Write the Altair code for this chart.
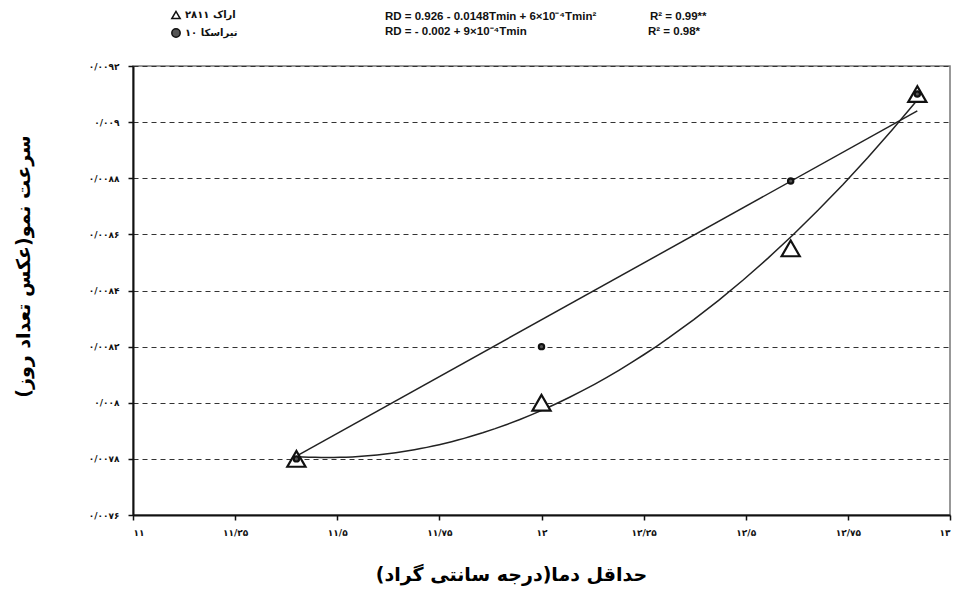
import altair as alt
import pandas as pd

# ---- data ----
series_names = ["اراک ۲۸۱۱", "تیراسکا ۱۰"]
tmin = [11.40, 12.00, 12.61, 12.92]
rd_arak = [0.00780, 0.00800, 0.00855, 0.00910]
rd_tiraska = [0.00780, 0.00820, 0.00879, 0.00910]

# straight trend line of the second series, end points
trend_tmin = [11.40, 12.92]
trend_rd = [0.00781, 0.00904]

x_ticks = [11, 11.25, 11.5, 11.75, 12, 12.25, 12.5, 12.75, 13]
x_labels = ["۱۱", "۱۱/۲۵", "۱۱/۵", "۱۱/۷۵", "۱۲", "۱۲/۲۵", "۱۲/۵", "۱۲/۷۵", "۱۳"]
y_ticks = [0.0076, 0.0078, 0.0080, 0.0082, 0.0084, 0.0086, 0.0088, 0.0090, 0.0092]
y_labels = ["۰/۰۰۷۶", "۰/۰۰۷۸", "۰/۰۰۸", "۰/۰۰۸۲", "۰/۰۰۸۴", "۰/۰۰۸۶", "۰/۰۰۸۸", "۰/۰۰۹", "۰/۰۰۹۲"]

eq_texts = ["RD = 0.926 - 0.0148Tmin + 6×10⁻⁴Tmin²", "RD = - 0.002 + 9×10⁻⁴Tmin"]
r2_texts = ["R² = 0.99**", "R² = 0.98*"]

x_title = "حداقل دما(درجه سانتی گراد)"
y_title = "سرعت نمو(عکس تعداد روز)"

df = pd.DataFrame(
    {
        "tmin": tmin + tmin,
        "rd": rd_arak + rd_tiraska,
        "series": [series_names[0]] * len(tmin) + [series_names[1]] * len(tmin),
    }
)
trend_df = pd.DataFrame({"tmin": trend_tmin, "rd": trend_rd})

x_label_expr = "[" + ",".join("'%s'" % s for s in x_labels) + "][round((datum.value-11)/0.25)]"
y_label_expr = "[" + ",".join("'%s'" % s for s in y_labels) + "][round((datum.value-0.0076)/0.0002)]"

FA = "DejaVu Sans"

x_enc = alt.X(
    "tmin:Q",
    scale=alt.Scale(domain=[11, 13], nice=False, zero=False),
    axis=alt.Axis(
        values=x_ticks,
        labelExpr=x_label_expr,
        title=x_title,
        grid=False,
        tickSize=5,
        labelPadding=8,
        titlePadding=28,
        titleX=378,
        labelFontSize=9,
        labelFont=FA,
        labelFontWeight="bold",
        titleFont=FA,
        titleFontSize=19,
        titleFontWeight="bold",
        domainColor="#111",
        domainWidth=2,
        tickColor="#111",
        tickWidth=1.5,
        labelColor="#111",
        titleColor="#000",
    ),
)
y_enc = alt.Y(
    "rd:Q",
    scale=alt.Scale(domain=[0.0076, 0.0092], nice=False, zero=False),
    axis=alt.Axis(
        values=y_ticks,
        labelExpr=y_label_expr,
        title=y_title,
        grid=True,
        gridDash=[5, 4],
        gridColor="#333",
        gridWidth=1.2,
        tickSize=5,
        labelPadding=9,
        titlePadding=55,
        titleY=200,
        labelFontSize=9,
        labelFont=FA,
        labelFontWeight="bold",
        titleFont=FA,
        titleFontSize=19,
        titleFontWeight="bold",
        domainColor="#111",
        domainWidth=2,
        tickColor="#111",
        tickWidth=1.5,
        labelColor="#111",
        titleColor="#000",
    ),
)

base = alt.Chart(df)

curve = (
    base.transform_filter(alt.datum.series == series_names[0])
    .transform_regression("tmin", "rd", method="poly", order=2)
    .mark_line(color="#222", strokeWidth=1.5)
    .encode(x=x_enc, y=y_enc)
)

straight = (
    alt.Chart(trend_df)
    .mark_line(color="#222", strokeWidth=1.5)
    .encode(x="tmin:Q", y="rd:Q")
)

LEG_X, LEG_Y = 38, -56
points = base.mark_point(strokeWidth=2.2, opacity=1, fillOpacity=1).encode(
    x="tmin:Q",
    y="rd:Q",
    shape=alt.Shape(
        "series:N",
        scale=alt.Scale(domain=series_names, range=["triangle-up", "circle"]),
        legend=alt.Legend(
            title=None,
            orient="none",
            legendX=LEG_X,
            legendY=LEG_Y,
            labelFont=FA,
            labelFontSize=10,
            labelFontWeight="bold",
            labelColor="#111",
            symbolStrokeWidth=1.5,
            symbolSize=70,
            rowPadding=3,
            labelOffset=4,
        ),
    ),
    fill=alt.Fill(
        "series:N",
        scale=alt.Scale(domain=series_names, range=["white", "#555"]),
        legend=alt.Legend(title=None, orient="none", legendX=LEG_X, legendY=LEG_Y),
    ),
    stroke=alt.Stroke(
        "series:N",
        scale=alt.Scale(domain=series_names, range=["#111", "#111"]),
        legend=alt.Legend(title=None, orient="none", legendX=LEG_X, legendY=LEG_Y),
    ),
    size=alt.condition(alt.datum.series == series_names[0], alt.value(330), alt.value(28)),
)


def label(text, px, py):
    return (
        alt.Chart(pd.DataFrame({"t": [text]}))
        .mark_text(align="left", baseline="middle", font="Liberation Sans", fontSize=11.5,
                   fontWeight="bold", color="#111")
        .encode(x=alt.value(px), y=alt.value(py), text="t:N")
    )


texts = (
    label(eq_texts[0], 252, -49)
    + label(eq_texts[1], 252, -34)
    + label(r2_texts[0], 517, -49)
    + label(r2_texts[1], 515, -34)
)

chart = (
    alt.layer(curve, straight, points, texts)
    .properties(
        width=817,
        height=449,
        autosize=alt.AutoSizeParams(type="none"),
        padding={"left": 125, "top": 58, "right": 10, "bottom": 80},
        background="white",
    )
    .configure_view(stroke="#777", strokeWidth=1.5)
)

chart.save("out.html", embed_options={"renderer": "svg", "actions": False})
